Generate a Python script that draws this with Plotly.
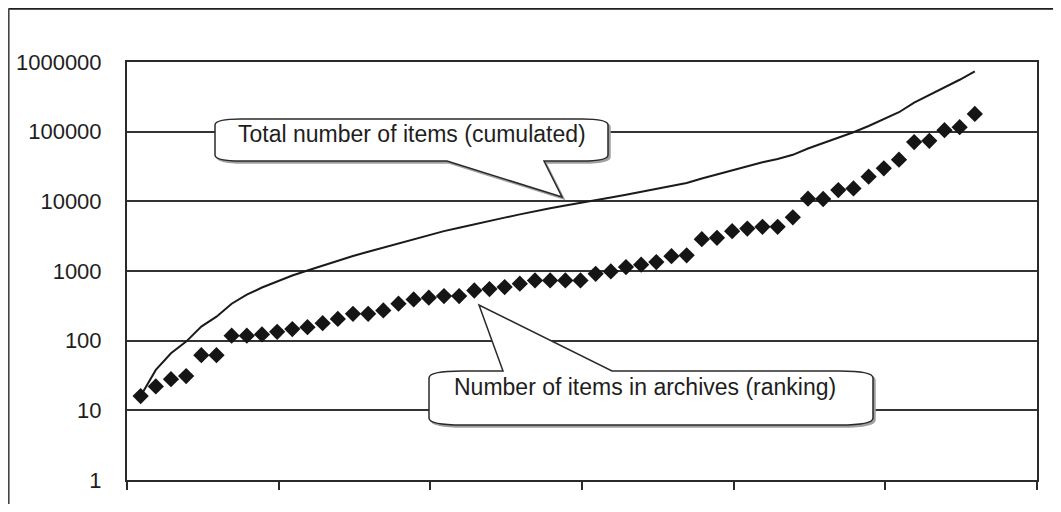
import plotly.graph_objects as go

# ---- data ----
rank = list(range(1, 57))
items_in_archive = [16, 22, 28, 31, 62, 62, 118, 118, 123, 134,
                    147, 156, 178, 205, 243, 243, 272, 339, 390, 414,
                    437, 437, 525, 550, 589, 657, 733, 733, 733, 733,
                    912, 986, 1140, 1230, 1343, 1633, 1680, 2865, 3000, 3726,
                    4070, 4300, 4300, 5900, 10900, 10800, 14500, 15300, 22600, 29800,
                    39600, 71000, 74000, 105000, 116000, 180000]
total_cumulated = [16, 38, 66, 97, 159, 221, 339, 457, 580, 714,
                   861, 1017, 1195, 1400, 1643, 1886, 2158, 2497, 2887, 3301,
                   3738, 4175, 4700, 5250, 5839, 6496, 7229, 7962, 8695, 9428,
                   10340, 11326, 12466, 13696, 15039, 16672, 18352, 21217, 24217, 27943,
                   32013, 36313, 40613, 46513, 57413, 68213, 82713, 98013, 120613, 150413,
                   190013, 261013, 335013, 440013, 556013, 736013]
y_tick_vals = [1, 10, 100, 1000, 10000, 100000, 1000000]
y_tick_text = ["1", "10", "100", "1000", "10000", "100000", "1000000"]
x_tick_vals = [0.1, 10.1, 20.1, 30.1, 40.1, 50.1, 60.1]
label_total = "Total number of items (cumulated)"
label_rank = "Number of items in archives (ranking)"

# page body margin offsets the figure by 8 px; layout is expressed in page pixels
OFF = 8
PLOT_L, PLOT_R, PLOT_T, PLOT_B = 127, 1037, 62, 480     # page pixels
W, H = 1061 - 2 * OFF, 512 - 2 * OFF
ML = PLOT_L - OFF
MT = PLOT_T - OFF
MR = W - (PLOT_R - OFF)
MB = H - (PLOT_B - OFF)
PW, PH = PLOT_R - PLOT_L, PLOT_B - PLOT_T
FONT = "Liberation Sans, Arial, sans-serif"


def X(px):
    return (px - PLOT_L) / PW


def Y(py):
    return (PLOT_B - py) / PH


def callout_path(L, R, T, B, rx, ry, wedge, dx=0, dy=0):
    """wedge = (side, base_x1, base_x2, tip_x, tip_y) in page pixels."""
    side, b1, b2, tx, ty = wedge
    L, R, T, B = L + dx, R + dx, T + dy, B + dy
    b1, b2, tx, ty = b1 + dx, b2 + dx, tx + dx, ty + dy
    pts = []

    def P(cmd, *xy):
        s = cmd
        for i in range(0, len(xy), 2):
            s += f" {X(xy[i]):.5f},{Y(xy[i+1]):.5f}"
        pts.append(s)

    P("M", L + rx, T)
    if side == "top":
        P("L", b1, T)
        P("L", tx, ty)
        P("L", b2, T)
    P("L", R - rx, T)
    P("Q", R, T, R, T + ry)
    P("L", R, B - ry)
    P("Q", R, B, R - rx, B)
    if side == "bottom":
        P("L", b2, B)
        P("L", tx, ty)
        P("L", b1, B)
    P("L", L + rx, B)
    P("Q", L, B, L, B - ry)
    P("L", L, T + ry)
    P("Q", L, T, L + rx, T)
    return " ".join(pts) + " Z"


fig = go.Figure()
fig.add_trace(go.Scatter(
    x=rank, y=total_cumulated, mode="lines",
    line=dict(color="#1a1a1a", width=2), name=label_total,
    showlegend=False, hoverinfo="skip"))
fig.add_trace(go.Scatter(
    x=rank, y=items_in_archive, mode="markers",
    marker=dict(symbol="diamond", size=12.5, color="#151515"),
    name=label_rank, showlegend=False, hoverinfo="skip"))

shapes = []
# outer frame (top and left edges)
shapes.append(dict(type="line", xref="paper", yref="paper", x0=X(8.5), x1=X(1061), y0=Y(8.6), y1=Y(8.6),
                   line=dict(color="#1e1e1e", width=2.5), layer="above"))
shapes.append(dict(type="line", xref="paper", yref="paper", x0=X(8.6), x1=X(8.6), y0=Y(8.5), y1=Y(520),
                   line=dict(color="#444444", width=2), layer="above"))

# callouts (shadow + box)
c1 = dict(L=215, R=608, T=119, B=161, rx=26, ry=6, wedge=("bottom", 447, 544, 562, 197))
c2 = dict(L=429, R=873, T=371, B=425, rx=33, ry=7, wedge=("top", 503, 612, 479, 305))
for c in (c1, c2):
    shapes.append(dict(type="path", xref="paper", yref="paper",
                       path=callout_path(c["L"], c["R"], c["T"], c["B"], c["rx"], c["ry"], c["wedge"], 2, 2),
                       line=dict(color="#a0a0a0", width=1.5), fillcolor="#a0a0a0", layer="above"))
    shapes.append(dict(type="path", xref="paper", yref="paper",
                       path=callout_path(c["L"], c["R"], c["T"], c["B"], c["rx"], c["ry"], c["wedge"]),
                       line=dict(color="#2a2a2a", width=1.5), fillcolor="white", layer="above"))

annotations = [
    dict(xref="paper", yref="paper", x=X(236), y=Y(134), text=label_total, showarrow=False,
         xanchor="left", yanchor="middle", font=dict(family=FONT, size=23, color="#1e1e1e")),
    dict(xref="paper", yref="paper", x=X(452), y=Y(387), text=label_rank, showarrow=False,
         xanchor="left", yanchor="middle", font=dict(family=FONT, size=23, color="#1e1e1e")),
]

fig.update_layout(
    width=W, height=H, autosize=False,
    margin=dict(l=ML, r=MR, t=MT, b=MB, pad=0),
    paper_bgcolor="white", plot_bgcolor="white",
    shapes=shapes, annotations=annotations,
    xaxis=dict(range=[0.1, 60.1], tickmode="array", tickvals=x_tick_vals, automargin=False,
               showticklabels=False, ticks="outside", ticklen=8, tickwidth=2, tickcolor="#2a2a2a",
               showgrid=False, zeroline=False, showline=True, linecolor="#2a2a2a", linewidth=2,
               mirror=True),
    yaxis=dict(type="log", range=[0, 6], tickmode="array", tickvals=y_tick_vals, ticktext=y_tick_text,
               ticks="", showgrid=True, gridcolor="#333333", gridwidth=2, automargin=False,
               showline=True, linecolor="#2a2a2a", linewidth=2, mirror=True, zeroline=False,
               ticklabelstandoff=19,
               tickfont=dict(family=FONT, size=22, color="#1e1e1e")),
)

fig.write_html("out.html")
